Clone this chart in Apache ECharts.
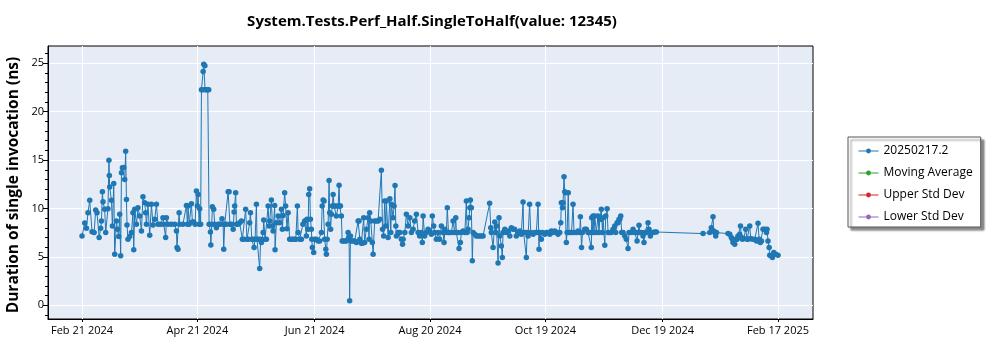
<!DOCTYPE html>
<html>
<head>
<meta charset="utf-8">
<script src="https://cdn.jsdelivr.net/npm/echarts@6/dist/echarts.min.js"></script>
<style>
html,body{margin:0;padding:0;background:#fff;}
#chart{width:1000px;height:350px;}
</style>
</head>
<body>
<div id="chart"></div>
<script>
// x values: days since Feb 21 2024
const days = [
0.0,1.4,2.3,3.1,4.0,5.2,6.3,7.1,7.8,8.9,9.7,10.1,10.6,10.9,11.8,12.3,13.5,14.0,14.2,14.4,15.3,15.8,16.5,17.0,17.9,18.4,19.1,19.6,20.1,20.5,21.0,21.7,22.2,22.7,23.1,23.4,23.9,24.8,25.7,26.5,26.9,27.4,28.3,29.1,30.0,30.9,31.7,32.6,33.1,33.5,34.3,35.2,36.1,36.9,37.8,38.7,39.5,40.8,42.1,42.5,43.5,43.9,44.7,46.5,48.2,49.1,49.4,49.9,50.5,50.8,
52.5,54.3,54.8,55.2,55.7,56.9,57.4,58.1,58.8,59.5,60.0,60.4,60.9,61.2,61.7,62.1,62.6,63.0,63.3,63.9,64.0,64.7,65.4,65.9,66.1,66.8,67.0,67.5,67.8,68.5,69.0,69.9,70.8,71.6,72.8,73.4,73.7,74.2,75.1,76.0,76.5,76.9,77.7,78.6,79.1,79.4,79.9,80.3,81.2,82.0,82.9,83.4,84.1,85.1,85.8,86.5,87.2,87.6,88.3,89.0,89.5,90.0,90.7,91.0,91.7,92.4,92.9,93.3,94.2,94.5,95.2,95.9,96.8,97.3,97.6,98.5,99.0,99.4,100.2,100.4,101.1,102.0,102.8,103.7,104.2,104.6,105.4,105.9,106.6,107.2,108.0,108.9,109.8,110.6,111.2,112.0,112.4,
113.2,114.1,114.9,115.8,116.7,117.0,117.6,117.9,118.4,118.8,119.3,119.5,119.8,120.5,121.0,121.9,122.8,123.6,124.5,124.9,125.4,125.9,126.2,126.8,127.1,127.5,128.0,128.5,128.8,129.3,129.7,130.2,130.6,131.1,132.0,132.3,133.2,133.7,134.0,134.4,134.9,135.3,135.8,136.7,137.5,138.4,138.9,139.2,139.6,140.1,141.0,141.8,142.7,143.6,144.1,144.5,145.3,145.8,146.5,147.0,147.9,148.8,149.3,149.6,150.2,151.0,151.4,152.2,153.1,154.0,154.9,155.7,156.3,156.9,157.4,158.0,158.3,159.2,160.1,160.6,160.9,161.8,162.3,162.8,163.2,163.5,164.4,165.3,166.1,166.7,167.0,167.9,168.7,169.6,170.5,171.3,172.2,173.0,173.9,174.8,175.6,
176.5,177.0,177.4,178.2,179.1,180.0,180.8,181.7,182.2,182.9,183.4,184.3,185.2,186.0,186.9,187.8,188.3,188.7,189.5,190.0,190.6,191.2,192.1,193.0,193.8,194.4,194.7,195.6,196.1,196.8,197.3,198.2,199.1,199.9,200.3,200.8,201.3,201.7,202.0,202.5,203.0,203.4,204.3,205.1,206.0,206.8,207.7,208.6,212.0,212.6,212.9,213.8,214.7,215.2,215.5,216.4,216.9,217.3,218.1,218.6,219.0,219.9,220.7,221.6,222.5,223.3,224.2,225.0,225.9,226.8,227.7,228.5,229.4,229.7,230.3,231.1,231.5,232.0,232.8,233.4,234.6,235.4,236.3,237.2,237.5,237.7,238.0,
238.9,239.4,240.7,241.5,242.4,243.3,244.1,245.0,245.9,246.7,247.6,248.5,249.0,249.3,249.9,250.2,250.7,251.1,251.6,251.9,252.3,252.9,253.3,254.0,254.6,255.4,255.9,257.1,258.0,258.9,259.2,259.8,260.3,261.5,262.3,263.2,264.1,264.9,265.1,265.5,265.8,266.3,266.7,267.5,268.4,268.9,269.3,269.8,270.1,270.7,271.0,271.9,272.4,273.1,273.6,274.5,275.3,276.2,277.1,277.6,278.3,278.8,279.3,279.7,280.2,280.7,281.4,282.3,283.1,284.0,284.5,285.8,286.6,287.5,288.3,288.7,289.2,289.7,290.1,290.9,291.8,292.3,292.7,293.5,294.4,294.9,295.6,296.1,297.0,
297.9,298.7,323.0,326.5,327.3,328.2,328.6,329.1,329.6,330.0,336.0,336.9,337.7,338.3,338.6,339.5,340.0,340.7,341.2,342.1,342.5,343.0,343.5,344.2,345.2,345.9,346.4,347.3,347.8,348.7,349.9,350.8,351.6,352.2,352.8,353.4,354.2,355.1,356.0,356.3,356.8,357.4,357.7,358.6,359.1,359.8,360.8,362.0
];
const values = [
7.17,8.50,7.96,9.57,10.84,7.61,7.51,9.84,9.57,7.00,7.96,8.71,11.73,10.70,9.91,7.51,9.98,14.99,13.41,12.21,10.84,8.20,12.59,5.28,8.71,7.85,7.10,9.40,5.11,13.68,14.20,14.23,13.00,15.91,10.94,8.30,6.82,7.10,7.51,9.57,5.73,9.91,8.37,10.08,9.22,7.68,11.21,10.60,9.57,8.37,10.43,7.24,10.43,8.30,8.88,10.43,8.37,8.37,9.05,8.37,7.00,9.05,8.37,8.37,8.37,7.68,5.97,5.80,9.57,8.37,
8.37,10.32,8.37,10.25,8.37,10.49,8.61,8.61,8.37,11.80,10.25,11.45,8.37,9.98,8.37,22.26,22.26,24.14,24.90,24.73,22.26,22.26,22.26,22.26,8.37,7.58,6.24,8.37,10.18,9.91,8.37,8.02,8.37,8.37,8.95,8.37,5.80,8.37,8.37,11.73,11.73,8.37,8.37,7.85,9.64,10.25,11.63,8.37,8.37,8.54,8.71,6.82,6.82,9.91,6.82,6.82,8.54,9.57,6.82,6.82,5.97,6.82,10.43,6.82,6.82,3.81,6.82,6.48,7.51,8.81,6.82,6.82,10.25,8.20,8.71,10.87,8.20,7.68,10.32,5.73,8.54,9.22,8.54,9.91,7.85,9.29,11.63,10.25,7.92,9.57,6.82,6.82,6.82,6.82,6.82,10.25,7.51,
6.82,6.82,8.37,8.71,7.17,8.88,7.85,11.45,12.04,8.88,7.85,6.82,5.97,5.45,6.82,6.82,6.65,6.65,7.51,10.25,10.87,10.77,6.82,5.80,5.28,6.82,8.37,12.89,9.57,7.85,9.40,10.25,11.45,10.25,10.25,9.22,10.25,12.41,10.25,10.25,9.22,6.65,6.65,6.65,6.65,7.51,7.00,0.48,7.17,6.65,6.65,6.65,6.48,8.71,8.71,6.82,6.41,6.41,9.05,6.48,7.85,9.05,6.82,9.57,8.71,6.48,5.28,8.71,8.71,8.71,8.88,13.96,7.85,7.17,10.77,8.20,10.77,7.00,11.01,7.51,10.43,9.05,10.25,12.38,8.20,7.17,7.51,7.51,6.82,6.31,6.82,7.51,9.40,8.20,9.05,7.51,7.85,8.71,9.40,7.51,7.17,
7.51,6.48,9.22,7.17,7.51,7.85,7.68,7.34,9.22,8.20,7.51,6.82,7.51,6.82,8.20,7.51,6.48,7.85,7.51,10.08,7.51,7.51,7.51,8.71,7.51,9.05,7.51,7.51,5.86,6.48,7.51,7.68,7.51,10.77,7.51,7.85,9.05,10.08,10.87,10.08,4.60,7.51,7.34,7.17,7.17,7.17,7.17,7.17,10.53,8.02,7.51,5.97,8.61,7.51,8.20,4.36,9.05,7.17,6.14,4.94,7.51,7.85,7.51,7.68,7.17,8.02,7.85,7.85,7.17,7.51,7.68,7.34,10.67,7.51,7.51,4.94,7.51,7.17,10.43,7.51,7.34,7.51,7.51,10.43,7.51,5.80,7.51,
6.82,7.51,7.34,7.51,7.51,7.34,7.68,7.51,7.68,7.51,7.34,7.51,8.54,10.60,10.08,10.60,13.27,11.73,11.63,6.48,7.51,11.63,7.51,7.51,7.51,10.43,7.51,7.51,7.68,7.51,9.16,5.97,7.51,7.85,7.85,7.51,7.51,5.97,9.05,7.51,9.22,7.51,9.22,7.51,9.22,7.51,8.88,8.88,9.91,7.51,9.05,6.21,9.22,9.98,7.51,7.51,7.51,7.85,8.20,7.51,8.54,8.54,8.88,8.88,9.22,7.51,7.51,7.17,6.82,5.86,7.51,7.51,7.85,7.51,7.51,6.65,7.51,8.26,7.51,7.51,7.17,6.48,7.51,7.51,8.54,7.85,7.17,7.51,7.51,
7.58,7.58,7.41,7.51,8.02,9.16,7.68,7.51,7.17,7.51,7.41,7.34,7.00,6.82,6.48,6.31,6.82,6.82,7.17,7.34,8.20,7.00,6.82,6.89,7.85,6.82,6.82,8.20,6.89,6.82,6.82,6.65,8.47,6.82,6.48,6.65,7.85,7.85,7.51,7.85,6.65,5.97,5.18,5.11,4.94,5.45,5.28,5.18
];
const tickDays = [0, 60, 121, 181, 241, 302, 362];
const tickLabels = ['Feb 21 2024','Apr 21 2024','Jun 21 2024','Aug 20 2024','Oct 19 2024','Dec 19 2024','Feb 17 2025'];
const yMajorTicks = [0, 5, 10, 15, 20, 25];
const yMinorTicks = [-1,0,1,2,3,4,5,6,7,8,9,10,11,12,13,14,15,16,17,18,19,20,21,22,23,24,25,26];
const seriesNames = ['20250217.2', 'Moving Average', 'Upper Std Dev', 'Lower Std Dev'];
const seriesColors = ['#1f77b4', '#2ca02c', '#d62728', '#9467bd'];
const titleText = 'System.Tests.Perf_Half.SingleToHalf(value: 12345)';
const yName = 'Duration of single invocation (ns)';

const FONT = '"Open Sans", "Noto Sans", sans-serif';
const chart = echarts.init(document.getElementById('chart'), null, {renderer: 'canvas'});
const mainData = days.map((d, i) => [d, values[i]]);

const series = seriesNames.map((name, i) => ({
  name: name,
  type: 'line',
  data: i === 0 ? mainData : [],
  symbol: 'circle',
  symbolSize: 5.5,
  showSymbol: true,
  color: seriesColors[i],
  lineStyle: {width: 1, color: seriesColors[i]},
  itemStyle: {color: seriesColors[i]},
  emphasis: {disabled: true},
  animation: false,
  z: 3
}));

chart.setOption({
  animation: false,
  backgroundColor: '#ffffff',
  title: {
    text: titleText,
    left: 427,
    top: 9,
    textAlign: 'center',
    textStyle: {fontFamily: FONT, fontWeight: 'bold', fontSize: 15, color: '#000'}
  },
  graphic: [{
    type: 'text',
    x: 14,
    y: 185,
    rotation: Math.PI / 2,
    silent: true,
    style: {
      text: yName,
      fill: '#000',
      font: 'bold 15.5px "Open Sans", "Noto Sans", sans-serif',
      textAlign: 'center',
      textVerticalAlign: 'middle'
    }
  }],
  grid: {
    left: 48, right: 187, top: 46, bottom: 31,
    show: true, backgroundColor: '#E5ECF6', borderColor: '#000', borderWidth: 1,
    containLabel: false,
    outerBoundsMode: 'none'
  },
  legend: {
    orient: 'vertical',
    left: 848, top: 137,
    padding: [7, 8, 3, 10],
    itemGap: 8,
    itemWidth: 20, itemHeight: 6,
    backgroundColor: '#fff',
    borderColor: '#555', borderWidth: 1,
    shadowColor: 'rgba(0,0,0,0.45)', shadowBlur: 2, shadowOffsetX: 3, shadowOffsetY: 3,
    lineStyle: {width: 1},
    textStyle: {fontFamily: FONT, fontSize: 12, color: '#000', lineHeight: 14},
    data: seriesNames,
    selectedMode: false
  },
  xAxis: {
    type: 'value',
    min: -17.7,
    max: 380.2,
    axisLine: {show: true, onZero: false, lineStyle: {color: '#000', width: 1}},
    axisTick: {show: true, customValues: tickDays, length: 3, lineStyle: {color: '#000'}},
    axisLabel: {
      customValues: tickDays,
      fontFamily: FONT, fontSize: 11, color: '#000', margin: 6,
      formatter: v => { const i = tickDays.indexOf(Math.round(v)); return i >= 0 ? tickLabels[i] : ''; }
    },
    splitLine: {show: true, lineStyle: {color: '#fff', width: 1}}
  },
  yAxis: [{
    type: 'value',
    min: -1.41,
    max: 26.78,
    axisLine: {show: true, onZero: false, lineStyle: {color: '#000', width: 1}},
    axisTick: {show: true, customValues: yMajorTicks, length: 5, lineStyle: {color: '#000'}},
    axisLabel: {customValues: yMajorTicks, fontFamily: FONT, fontSize: 11, color: '#000', margin: 4},
    splitLine: {show: true, lineStyle: {color: '#fff', width: 1}}
  }, {
    type: 'value',
    min: -1.41,
    max: 26.78,
    position: 'left',
    offset: 0,
    axisLine: {show: false, onZero: false},
    axisTick: {show: true, customValues: yMinorTicks, length: 3, lineStyle: {color: '#000'}},
    axisLabel: {show: false},
    splitLine: {show: false}
  }],
  series: series
});
</script>
</body>
</html>
